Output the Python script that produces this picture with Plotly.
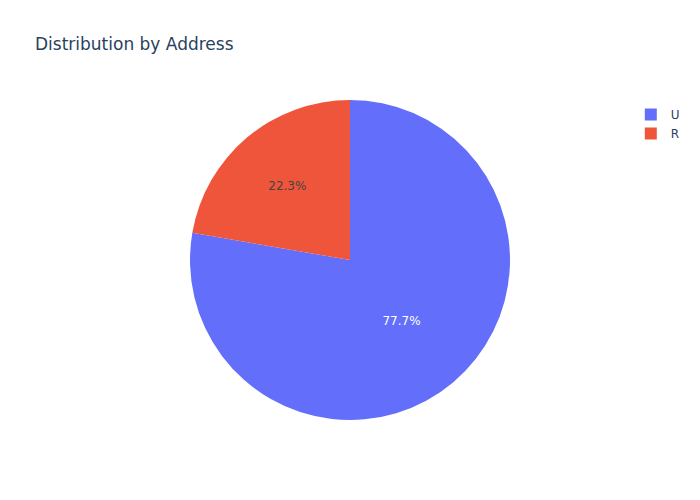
import plotly.graph_objects as go

labels = ["U", "R"]
counts = [307, 88]

fig = go.Figure(go.Pie(labels=labels, values=counts,
                       marker=dict(colors=["#636efa", "#EF553B"])))
fig.update_layout(template="plotly", title=dict(text="Distribution by Address"),
                  font=dict(family="DejaVu Sans"),
                  width=700, height=500)
fig.write_html("out.html")
